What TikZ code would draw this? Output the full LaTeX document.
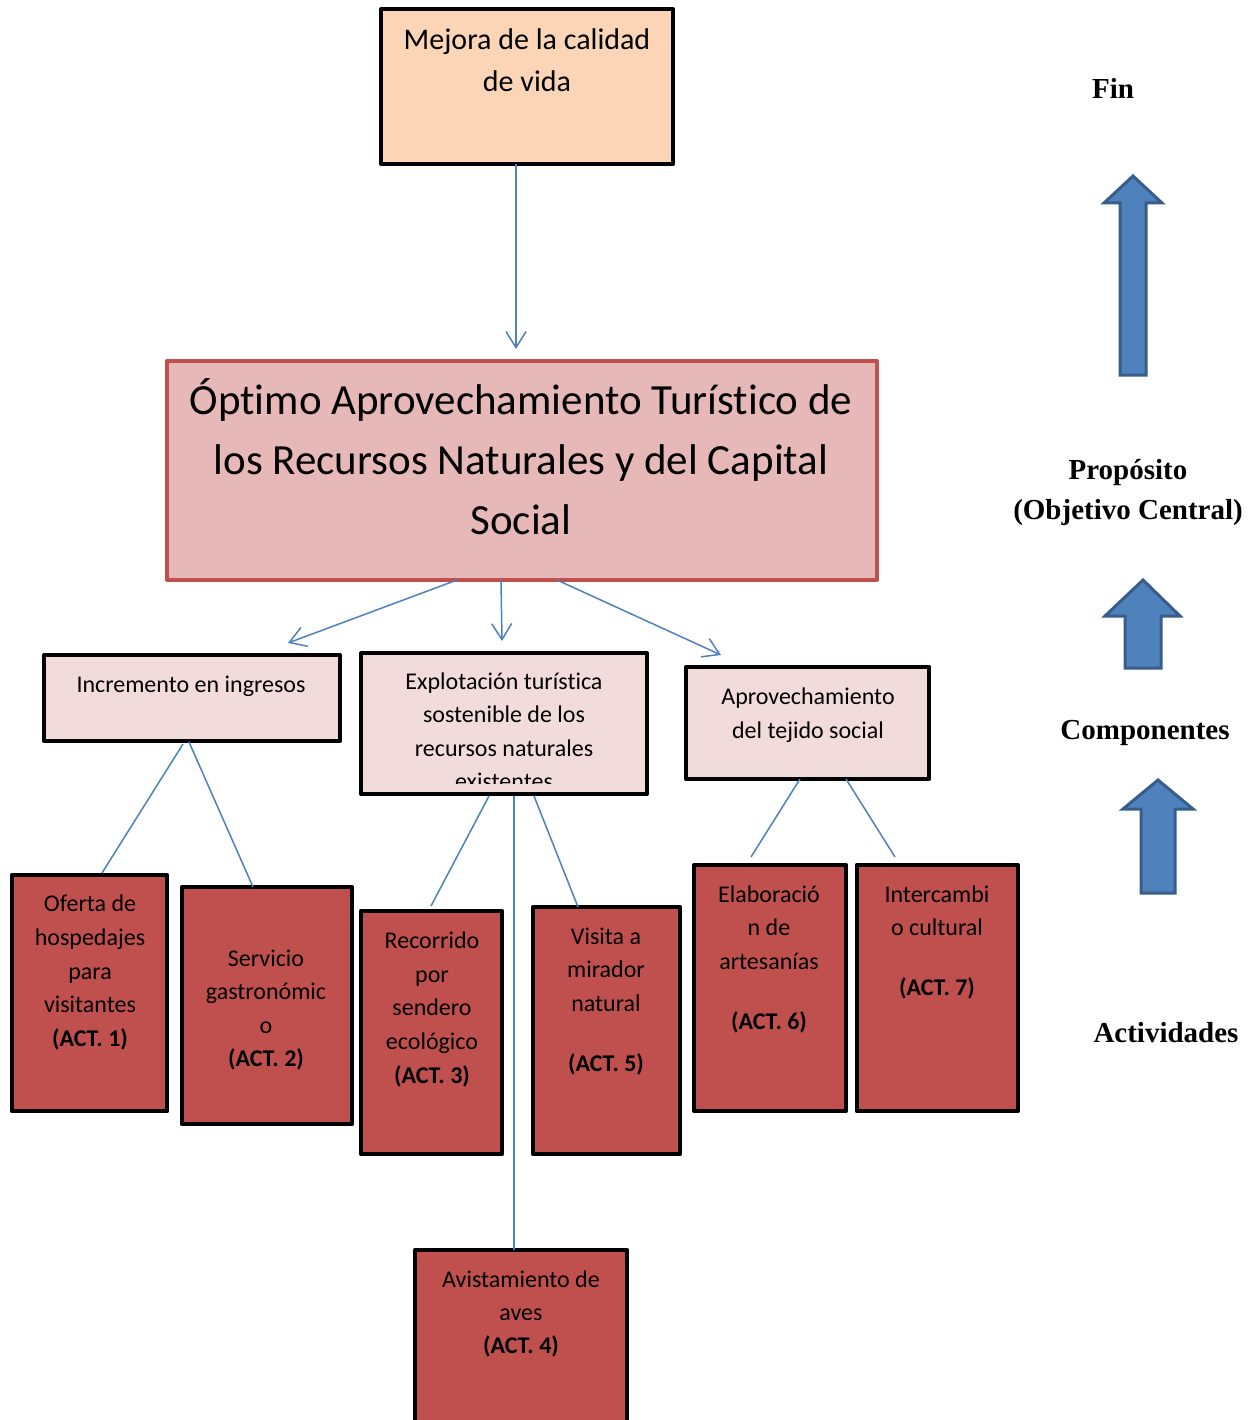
\documentclass[tikz,border=0pt]{standalone}
\usepackage{fontspec}
\newfontfamily\calfont[Ligatures=NoCommon]{Carlito}
\newfontfamily\tmsfont{Liberation Serif}
\usetikzlibrary{arrows.meta}
\definecolor{peach}{HTML}{FBD5B5}
\definecolor{bigfill}{HTML}{E6B9B8}
\definecolor{bigline}{HTML}{C0504D}
\definecolor{compfill}{HTML}{F2DCDB}
\definecolor{actfill}{HTML}{C0504D}
\definecolor{conn}{HTML}{4F81BD}
\definecolor{barrowfill}{HTML}{4F81BD}
\definecolor{barrowline}{HTML}{385D8A}
\tikzset{
  boxbase/.style={rectangle, inner sep=0pt, outer sep=0pt, line join=round},
  topbox/.style={boxbase, draw=black, line width=4pt, fill=peach},
  bigbox/.style={boxbase, draw=bigline, line width=4pt, fill=bigfill},
  compbox/.style={boxbase, draw=black, line width=4pt, fill=compfill},
  actbox/.style={boxbase, draw=black, line width=4.5pt, fill=actfill},
  lbl/.style={inner sep=0pt, anchor=base, font=\calfont\fontsize{24}{28}\selectfont},
  lblm/.style={inner sep=0pt, anchor=base, font=\calfont\fontsize{30}{36}\selectfont},
  lblb/.style={inner sep=0pt, anchor=base, font=\calfont\fontsize{43}{50}\selectfont},
  side/.style={inner sep=0pt, anchor=base, font=\tmsfont\bfseries\fontsize{29}{34}\selectfont},
  conline/.style={draw=conn, line width=1.5pt},
  conarrow/.style={conline, -{Straight Barb[length=16pt,width=20pt,line width=1.5pt]}},
  blockarrow/.style={fill=barrowfill, draw=barrowline, line width=3pt, line join=miter}
}
\begin{document}
\begin{tikzpicture}[x=1pt,y=-1pt]
\clip (0,0) rectangle (1257,1420);
\fill[white] (0,0) rectangle (1257,1420);

% boxes
\node[topbox, minimum width=292pt, minimum height=155pt] (mej) at (527,86.5) {};
\node[bigbox, minimum width=710pt, minimum height=219pt] (big) at (522,470.5) {};
\node[compbox, minimum width=296pt, minimum height=86pt] (inc) at (192,698) {};
\node[compbox, minimum width=286pt, minimum height=141pt] (exp) at (504,723.5) {};
\node[compbox, minimum width=243pt, minimum height=112pt] (apr) at (807.5,723) {};
\node[actbox, minimum width=155pt, minimum height=236pt] (of1) at (89.5,993) {};
\node[actbox, minimum width=170pt, minimum height=237pt] (se2) at (267,1005.5) {};
\node[actbox, minimum width=141pt, minimum height=243pt] (re3) at (431.5,1032.5) {};
\node[actbox, minimum width=147pt, minimum height=247pt] (vi5) at (606.5,1030.5) {};
\node[actbox, minimum width=152pt, minimum height=246pt] (el6) at (770,988) {};
\node[actbox, minimum width=161pt, minimum height=246pt] (in7) at (937.5,988) {};
\node[actbox, minimum width=212pt, minimum height=190pt] (av4) at (521,1345) {};

% texts
\node[lblm] (mej-1) at (527,50) {Mejora de la calidad};
\node[lblm] (mej-2) at (527,92) {de vida};
\node[lblb] (big-1) at (521,414) {Óptimo Aprovechamiento Turístico de};
\node[lblb] (big-2) at (521,474) {los Recursos Naturales y del Capital};
\node[lblb] (big-3) at (521,534) {Social};
\node[lbl] (inc-1) at (191,692) {Incremento en ingresos};
\begin{scope}
\clip (363,655) rectangle (645,783);
\foreach \s/\y [count=\i] in {Explotación turística/689, sostenible de los/722.6, recursos naturales/756.2, existentes/789.8}
  \node[lbl] (exp-\i) at (504,\y) {\s};
\end{scope}
\node[lbl] (apr-1) at (808,704) {Aprovechamiento};
\node[lbl] (apr-2) at (808,738) {del tejido social};

\foreach \s/\y [count=\i] in {Oferta de/911, hospedajes/945, para/979, visitantes/1012}
  \node[lbl] (of1-\i) at (90,\y) {\s};
\node[lbl] (of1-act) at (90,1046) {\textbf{(ACT. 1)}};
\foreach \s/\y [count=\i] in {Servicio/966, gastronómic/999, o/1033}
  \node[lbl] (se2-\i) at (266,\y) {\s};
\node[lbl] (se2-act) at (266,1066) {\textbf{(ACT. 2)}};
\foreach \s/\y [count=\i] in {Recorrido/948, por/982, sendero/1015, ecológico/1049}
  \node[lbl] (re3-\i) at (432,\y) {\s};
\node[lbl] (re3-act) at (432,1083) {\textbf{(ACT. 3)}};
\foreach \s/\y [count=\i] in {Visita a/944, mirador/977, natural/1011}
  \node[lbl] (vi5-\i) at (606,\y) {\s};
\node[lbl] (vi5-act) at (606,1071) {\textbf{(ACT. 5)}};
\foreach \s/\y [count=\i] in {Elaboració/902, n de/935, artesanías/969}
  \node[lbl] (el6-\i) at (769,\y) {\s};
\node[lbl] (el6-act) at (769,1029) {\textbf{(ACT. 6)}};
\foreach \s/\y [count=\i] in {Intercambi/902, o cultural/935}
  \node[lbl] (in7-\i) at (937,\y) {\s};
\node[lbl] (in7-act) at (937,995) {\textbf{(ACT. 7)}};
\foreach \s/\y [count=\i] in {Avistamiento de/1287, aves/1320}
  \node[lbl] (av4-\i) at (521,\y) {\s};
\node[lbl] (av4-act) at (521,1353) {\textbf{(ACT. 4)}};

% side labels
\node[side] (fin) at (1113,99) {Fin};
\node[side] (prop) at (1128,479) {Propósito};
\node[side] (obj) at (1128,519) {(Objetivo Central)};
\node[side] (comp) at (1145,739) {Componentes};
\node[side] (actv) at (1166,1042) {Actividades};

% connectors
\coordinate (e0) at (516,349);
\coordinate (e1) at (288,643);
\coordinate (e2) at (502,641);
\coordinate (e3) at (721,655);
\draw[conarrow] ([xshift=-11pt]mej.south) -- (e0);
\draw[conarrow] ([xshift=290pt]big.south west) -- (e1);
\draw[conarrow] ([xshift=334pt]big.south west) -- (e2);
\draw[conarrow] ([xshift=390pt]big.south west) -- (e3);
\draw[conline] ([xshift=139pt,yshift=-3pt]inc.south west) -- ([xshift=90pt,yshift=2pt]of1.north west);
\draw[conline] ([xshift=145pt,yshift=-1pt]inc.south west) -- ([xshift=71pt]se2.north west);
\draw[conline] ([xshift=128pt,yshift=-2pt]exp.south west) -- ([xshift=70pt,yshift=5pt]re3.north west);
\draw[conline] ([xshift=173pt,yshift=-2pt]exp.south west) -- ([xshift=45pt]vi5.north west);
\draw[conline] ([xshift=153pt,yshift=-2pt]exp.south west) -- ([xshift=99pt]av4.north west);
\draw[conline] ([xshift=114pt]apr.south west) -- ([xshift=57pt,yshift=8pt]el6.north west);
\draw[conline] ([xshift=160pt]apr.south west) -- ([xshift=38pt,yshift=8pt]in7.north west);

% block arrows
\draw[blockarrow] (1133,176) -- (1162,203) -- (1146,203) -- (1146,375) -- (1120,375) -- (1120,203) -- (1104,203) -- cycle;
\draw[blockarrow] (1143,580) -- (1180,616) -- (1161,616) -- (1161,668) -- (1125,668) -- (1125,616) -- (1105,616) -- cycle;
\draw[blockarrow] (1158,780) -- (1193,809) -- (1175,809) -- (1175,893) -- (1141,893) -- (1141,809) -- (1123,809) -- cycle;
\end{tikzpicture}
\end{document}
